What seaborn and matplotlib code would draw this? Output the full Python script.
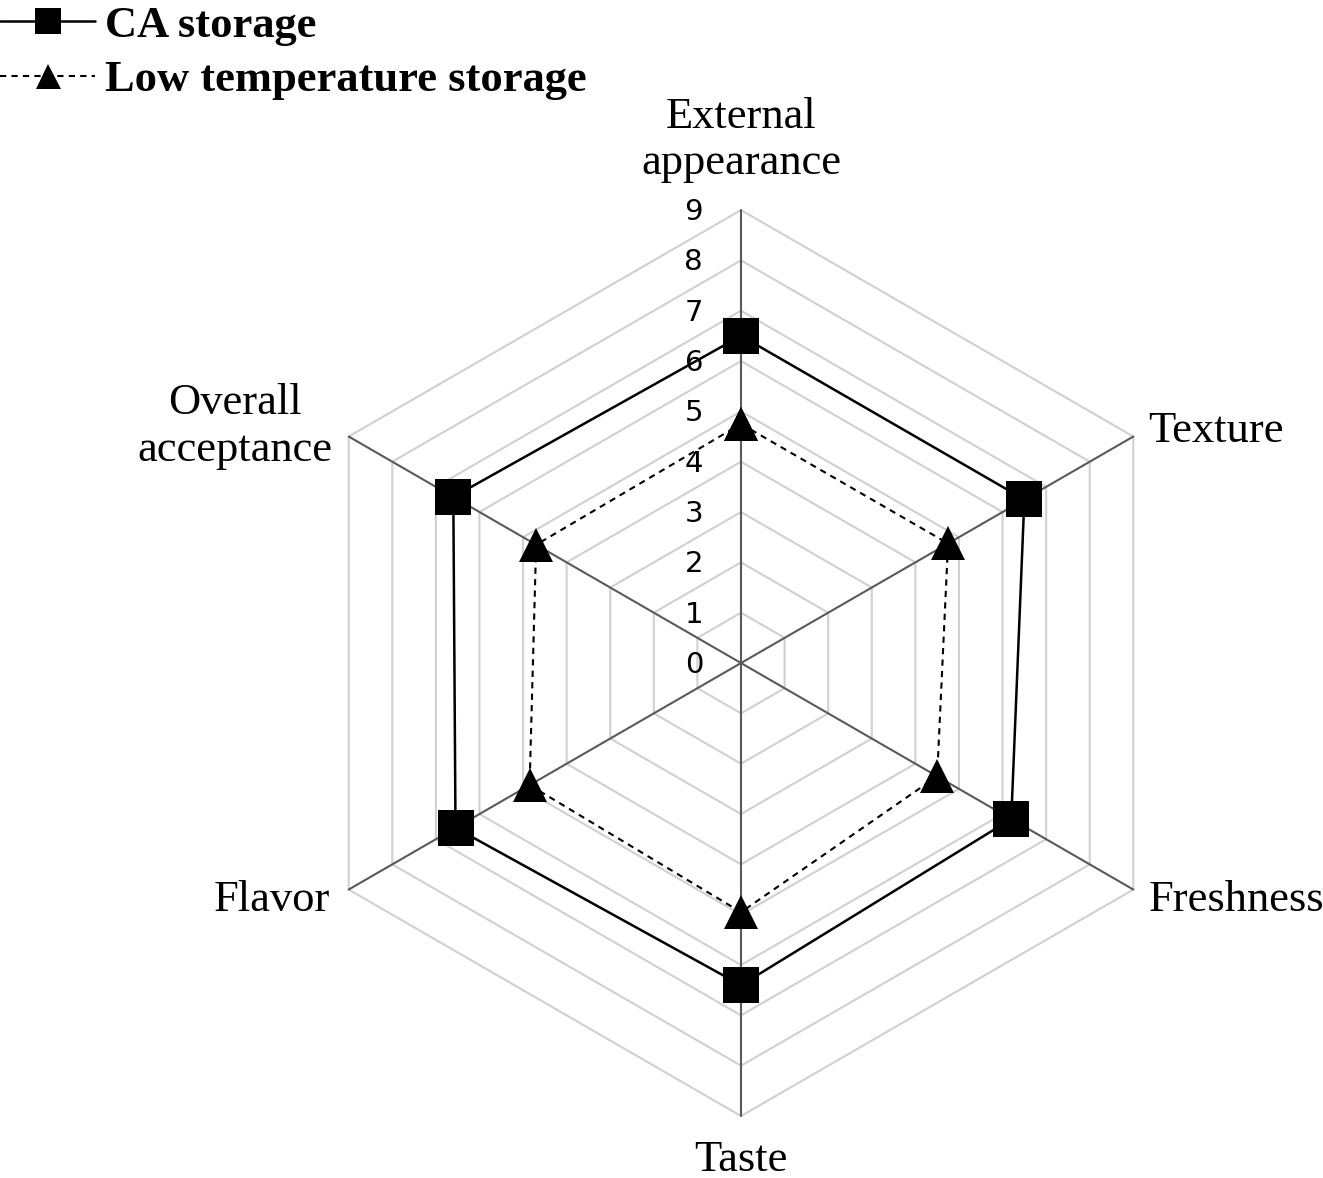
import numpy as np
import matplotlib
matplotlib.use('Agg')
import matplotlib.pyplot as plt
import seaborn as sns

# 数据
categories = ['External\nappearance', 'Texture', 'Freshness', 'Taste', 'Flavor', 'Overall\nacceptance']
ca_storage = [6.5, 6.5, 6.2, 6.4, 6.55, 6.6]
low_temp_storage = [4.75, 4.75, 4.5, 4.95, 4.85, 4.7]
levels = list(range(0, 10))

sns.set_theme(style='white')
plt.rcParams['font.family'] = ['Liberation Serif', 'DejaVu Serif']
plt.rcParams['text.color'] = 'black'

n = len(categories)
theta = np.linspace(0, 2 * np.pi, n, endpoint=False)
theta_closed = np.append(theta, theta[0])

fig = plt.figure(figsize=(13.23, 11.78), dpi=100)
ax = fig.add_axes([0.2177, 0.0526, 0.6848, 0.7691], polar=True)
ax.set_theta_zero_location('N')
ax.set_theta_direction(-1)
ax.set_ylim(0, max(levels))
ax.grid(False)
ax.set_xticks([])
ax.set_yticks([])
ax.spines['polar'].set_visible(False)
ax.set_facecolor('white')

# 六边形网格
for lv in levels[1:]:
    ax.plot(theta_closed, [lv] * (n + 1), color='#d0d0d0', linewidth=1.5, zorder=1, clip_on=False)
for t in theta:
    ax.plot([t, t], [0, max(levels)], color='#595959', linewidth=1.5, zorder=2, clip_on=False)

# 两条数据线
sns.lineplot(x=theta_closed, y=ca_storage + ca_storage[:1], sort=False, estimator=None, ax=ax,
             color='black', linewidth=1.8, marker='s', markersize=26, markeredgewidth=0,
             label='CA storage', legend=False, zorder=4)
sns.lineplot(x=theta_closed, y=low_temp_storage + low_temp_storage[:1], sort=False, estimator=None, ax=ax,
             color='black', linewidth=1.5, marker='^', markersize=25, markeredgewidth=0,
             label='Low temperature storage', legend=False, zorder=4)
ax.lines[-1].set_linestyle((0, (3, 2.5)))
for ln in ax.lines[-2:]:
    ln.set_clip_on(False)

# 刻度数字
for lv in levels:
    ax.annotate(str(lv), xy=(0, lv), xytext=(-38, -2), textcoords='offset pixels',
                ha='right', va='center', fontsize=21, family=['DejaVu Sans'], color='black', zorder=3)

# 类别标签
offsets = [(0, 70, 'center'), (15, 6, 'left'), (15, -10, 'left'),
           (0, -44, 'center'), (-19, -10, 'right'), (-16, 10, 'right')]
for t, lab, (dx, dy, ha) in zip(theta, categories, offsets):
    ax.annotate(lab, xy=(t, max(levels)), xytext=(dx, dy), textcoords='offset pixels',
                ha=ha, va='center', multialignment='center', linespacing=1.22,
                fontsize=32, color='black', annotation_clip=False)

handles = ax.lines[-2:]
fig.legend(handles, ['CA storage', 'Low temperature storage'], loc='upper left',
           bbox_to_anchor=(0, 0.995), frameon=False, prop={'size': 32, 'weight': 'bold'},
           handlelength=2.14, handletextpad=0.23, labelspacing=0.32, borderpad=0,
           borderaxespad=0, markerscale=0.72, labelcolor='black')

plt.savefig('out.png', dpi=100)
